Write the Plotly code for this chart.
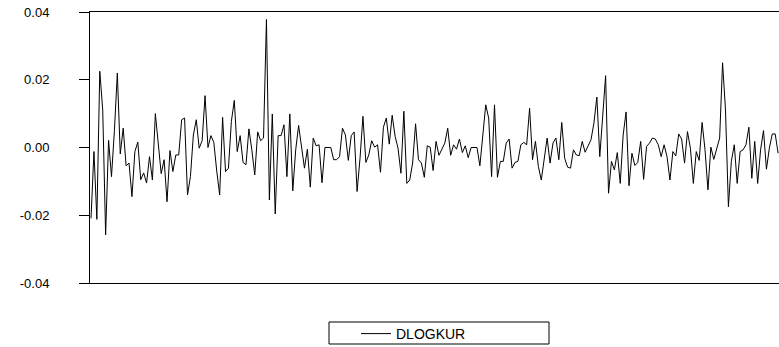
import plotly.graph_objects as go

# DLOGKUR series, values (units: 0.01)
dlogkur_pct = [
    -2.09, -0.12, -2.12, 2.25, 1.11, -2.58, 0.21, -0.86, 0.5, 2.2,
    -0.19, 0.57, -0.54, -0.46, -1.45, -0.12, 0.16, -0.95, -0.75, -1.05,
    -0.27, -0.96, 1.0, 0.1, -0.77, -0.36, -1.6, -0.09, -0.71, -0.22,
    -0.22, 0.82, 0.87, -1.4, -0.86, 0.37, 0.82, -0.02, 0.2, 1.53,
    0.0, 0.35, 0.15, -0.7, -1.4, 0.89, -0.71, -0.61, 0.77, 1.39,
    -0.12, 0.35, -0.44, -0.51, 0.55, -0.07, -0.81, 0.46, 0.2, 0.28,
    3.78, -1.55, 0.99, -1.96, 0.35, 0.35, 0.67, -0.86, 0.99, -1.28,
    -0.07, 0.65, -0.07, -0.61, -0.05, -1.17, 0.28, 0.05, 0.08, -1.04,
    0.0, 0.0, 0.0, -0.36, -0.36, -0.27, 0.57, 0.37, -0.38, 0.35,
    0.46, -1.3, -0.32, 0.92, -0.44, -0.22, 0.2, 0.01, 0.08, -0.73,
    0.6, 0.87, 0.1, 0.95, 0.33, -0.02, -0.76, 1.07, -1.06, -0.96,
    -0.46, 0.7, -0.36, -0.46, -0.88, 0.05, 0.01, -0.68, 0.18, -0.23,
    -0.05, 0.13, 0.57, -0.23, 0.08, -0.05, 0.25, -0.15, 0.05, -0.3,
    0.0, 0.0, 0.0, -0.54, 0.4, 1.26, 0.87, -0.86, 1.26, -0.88,
    -0.41, -0.41, 0.13, 0.25, -0.61, -0.44, -0.41, 0.08, 0.15, 0.08,
    1.16, -0.36, 0.18, -0.56, -0.96, -0.27, 0.28, -0.46, 0.13, 0.28,
    -0.36, 0.74, -0.32, -0.58, -0.61, -0.07, -0.22, -0.24, 0.18, -0.14,
    0.03, 0.23, 0.72, 1.49, -0.27, 1.07, 2.12, -1.35, -0.41, -0.66,
    -0.15, -1.06, 0.37, 1.05, -1.13, -0.17, -0.53, -0.44, 0.18, -0.94,
    0.03, 0.13, 0.28, 0.25, 0.08, -0.27, 0.08, -0.27, -0.96, -0.12,
    -0.25, 0.4, 0.25, -0.46, 0.47, -0.02, -1.06, -0.12, -0.38, 0.74,
    -0.07, -1.25, 0.01, -0.35, -0.07, 0.28, 2.5, 1.11, -1.75, -0.41,
    0.08, -1.06, -0.12, -0.07, 0.08, 0.6, -0.91, 0.18, -1.06, -0.07,
    0.5, -0.64, -0.02, 0.4, 0.4, -0.17,
]
dlogkur = [v / 100 for v in dlogkur_pct]
obs = list(range(len(dlogkur)))

y_tickvals = [-0.04, -0.02, 0.0, 0.02, 0.04]
y_ticktext = ["-0.04", "-0.02", "0.00", "0.02", "0.04"]

FONT = "Liberation Sans, Arial, sans-serif"

fig = go.Figure()
fig.add_trace(go.Scatter(
    x=obs, y=dlogkur, mode="lines", name="DLOGKUR",
    line=dict(color="black", width=1),
))

fig.update_layout(
    width=779, height=347,
    margin=dict(l=90, r=0, t=12, b=64, autoexpand=False),
    paper_bgcolor="white", plot_bgcolor="white",
    font=dict(family=FONT, size=13, color="black"),
    showlegend=True,
    legend=dict(
        x=(356 - 90) / 689, y=(283 - 318) / 271,
        xanchor="left", yanchor="top",
        bgcolor="rgba(0,0,0,0)", borderwidth=0,
        font=dict(family=FONT, size=14, color="black"),
    ),
    shapes=[dict(
        type="rect", xref="paper", yref="paper",
        x0=(329 - 90) / 689, x1=(549 - 90) / 689,
        y0=(283 - 344) / 271, y1=(283 - 322) / 271,
        line=dict(color="black", width=1), fillcolor="rgba(0,0,0,0)",
    )],
)
fig.update_xaxes(
    range=[-0.35, len(dlogkur) - 0.7],
    showline=True, linecolor="black", linewidth=1, mirror=True,
    showticklabels=False, ticks="", showgrid=False, zeroline=False,
)
fig.update_yaxes(
    range=[-0.04, 0.04],
    tickvals=y_tickvals, ticktext=y_ticktext,
    ticks="outside", ticklen=10, tickcolor="black", tickwidth=1,
    ticklabelstandoff=27,
    showline=True, linecolor="black", linewidth=1, mirror=True,
    showgrid=False, zeroline=False,
    tickfont=dict(family=FONT, size=13, color="black"),
)

fig.write_html("out.html")
